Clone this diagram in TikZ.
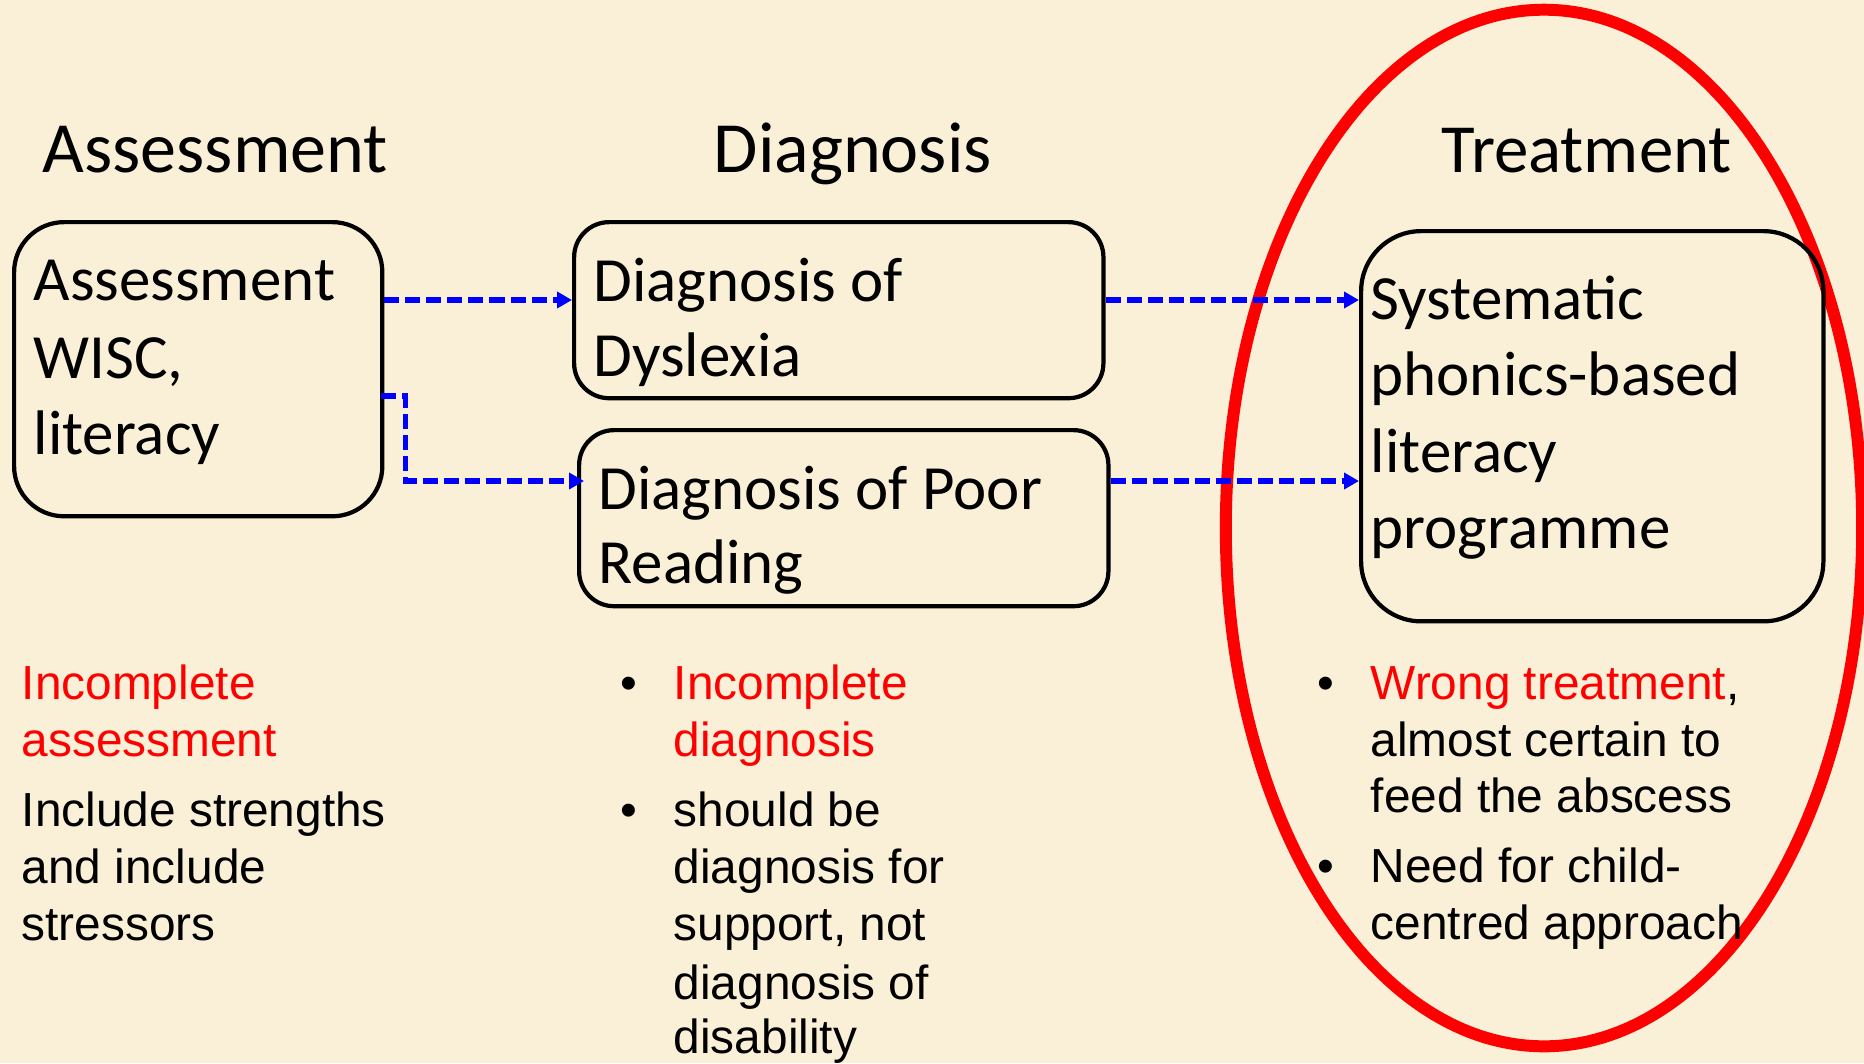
\documentclass[tikz,border=0pt]{standalone}
\usepackage{fontspec}
\setmainfont{Carlito}
\newfontfamily\arialf{Liberation Sans}
\usetikzlibrary{arrows.meta}
\definecolor{bg}{RGB}{250,240,216}
\definecolor{flowblue}{RGB}{0,0,255}
\definecolor{hired}{RGB}{255,0,0}
\begin{document}
\begin{tikzpicture}[x=0.01cm,y=-0.01cm,
 heading/.style={anchor=base west, inner sep=0, font=\fontsize{20.5}{24}\selectfont},
 boxtxt/.style={anchor=base west, inner sep=0, font=\fontsize{17.9}{22}\selectfont},
 stagebox/.style={draw, line width=1.2pt, anchor=north west, inner sep=0},
 note/.style={anchor=base west, inner sep=0, font=\arialf\fontsize{13.6}{16}\selectfont},
 rednote/.style={note, text=hired},
 flow/.style={draw=flowblue, line width=1.5pt, dash pattern=on 0.15cm off 0.06cm, -{Triangle[length=0.15cm,width=0.16cm]}},
]
\useasboundingbox (0,0) rectangle (1864,1063);
\fill[bg] (0,0) rectangle (1864,1063);

% red ellipse
\draw[hired, line width=3.4pt] (1544,528) ellipse [x radius=3.18cm, y radius=5.18cm];

% headings
\node[heading] (hA) at (42,172) {Assessment};
\node[heading] (hD) at (713,172) {Diagnosis};
\node[heading, font=\fontsize{19.6}{24}\selectfont] (hT) at (1441,172) {Treatment};

% boxes
\node[stagebox, rounded corners=0.5cm, minimum width=3.68cm, minimum height=2.94cm] (A) at (12,220) {};
\node[stagebox, rounded corners=0.35cm, minimum width=5.29cm, minimum height=1.76cm] (D1) at (572,220) {};
\node[stagebox, rounded corners=0.35cm, minimum width=5.29cm, minimum height=1.76cm] (D2) at (577,428) {};
\node[stagebox, rounded corners=0.6cm, minimum width=4.62cm, minimum height=3.90cm] (T) at (1359,229) {};

% box texts
\node[boxtxt] (a1) at (33,300) {Assessment};
\node[boxtxt] (a2) at (33,378) {WISC,};
\node[boxtxt] (a3) at (33,454) {literacy};
\node[boxtxt] (d11) at (593,301) {Diagnosis of};
\node[boxtxt] (d12) at (593,376) {Dyslexia};
\node[boxtxt] (d21) at (598,509) {Diagnosis of Poor};
\node[boxtxt] (d22) at (598,583) {Reading};
\node[boxtxt] (t1) at (1370,319) {Systematic};
\node[boxtxt] (t2) at (1370,395) {phonics-based};
\node[boxtxt] (t3) at (1370,472) {literacy};
\node[boxtxt] (t4) at (1370,548) {programme};

% connectors
\coordinate (yA) at (0,300);
\coordinate (yB) at (0,396);
\coordinate (yC) at (0,481);
\draw[flow] (A.east |- yA) -- (D1.west |- yA);
\draw[flow] ([xshift=-0.03cm]A.east |- yB) -- ++(24,0) |- ([xshift=0.07cm]D2.west |- yC);
\draw[flow] (D1.east |- yA) -- (T.west |- yA);
\draw[flow] (D2.east |- yC) -- (T.west |- yC);

% left notes
\node[rednote] (l1) at (21,699) {Incomplete};
\node[rednote] (l2) at (21,756) {assessment};
\node[note] (l3) at (21,826) {Include strengths};
\node[note] (l4) at (21,883) {and include};
\node[note] (l5) at (21,940) {stressors};

% middle notes
\node[note] (mb1) at (620,699) {•};
\node[note] (mb2) at (620,826) {•};
\node[rednote] (m1) at (673,699) {Incomplete};
\node[rednote] (m2) at (673,756) {diagnosis};
\node[note] (m3) at (673,826) {should be};
\node[note] (m4) at (673,883) {diagnosis for};
\node[note] (m5) at (673,940) {support, not};
\node[note] (m6) at (673,999) {diagnosis of};
\node[note] (m7) at (673,1053) {disability};

% right notes
\node[note] (rb1) at (1317,699) {•};
\node[note] (rb2) at (1317,882) {•};
\node[note] (r1) at (1370,699) {\textcolor{hired}{Wrong treatment},};
\node[note] (r2) at (1370,756) {almost certain to};
\node[note] (r3) at (1370,812) {feed the abscess};
\node[note] (r4) at (1370,882) {Need for child-};
\node[note] (r5) at (1370,939) {centred approach};
\end{tikzpicture}
\end{document}
